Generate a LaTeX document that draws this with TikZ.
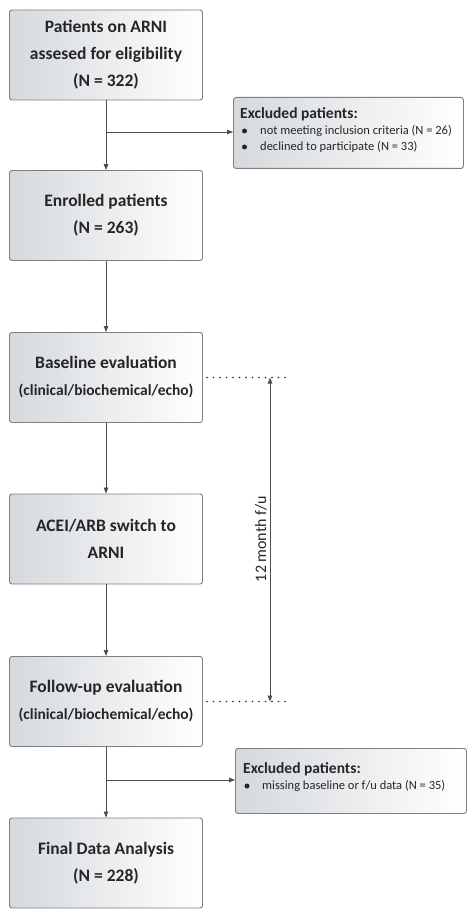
\documentclass[tikz,border=0pt]{standalone}
\usepackage{fontspec}
\setmainfont{Carlito}
\usetikzlibrary{arrows.meta}
\definecolor{edgegray}{HTML}{7F7F7F}
\definecolor{linegray}{HTML}{4D4D4D}
\definecolor{txt}{HTML}{262626}
\definecolor{boxgray}{HTML}{D5D9DD}
\tikzset{
  box/.style={draw=edgegray, line width=0.9pt, rounded corners=2.5pt, left color=boxgray, right color=white,
    minimum width=193pt, minimum height=90pt, inner sep=0pt, align=center, text=txt,
    font=\fontsize{17.5}{27}\selectfont\bfseries},
  exbox/.style={draw=edgegray, line width=0.9pt, rounded corners=2.5pt, left color=boxgray, right color=white,
    anchor=north west, inner sep=0pt},
  exhead/.style={anchor=west, inner sep=0pt, text=txt, font=\fontsize{15.5}{17}\selectfont\bfseries},
  extext/.style={anchor=west, inner sep=0pt, text=txt, font=\fontsize{12.5}{14}\selectfont},
  bul/.style={circle, fill=txt, inner sep=0pt, minimum size=5pt},
  conn/.style={draw=linegray, line width=0.8pt, -{Triangle[length=6pt,width=4.5pt]}},
  dots/.style={draw=txt, line width=1.7pt, line cap=round, dash pattern=on 0pt off 6.5pt}
}
\begin{document}
\begin{tikzpicture}[x=1pt,y=-1pt]
\useasboundingbox[fill=white] (0,0) rectangle (474,917);
% main boxes
\node[box] (b1) at (106,55) {Patients on ARNI\\assesed for eligibility\\(N = 322)};
\node[box] (b2) at (106,215.5) {Enrolled patients\\(N = 263)};
\node[box] (b3) at (106,377.5) {Baseline evaluation\\{\fontsize{15.5}{27}\selectfont(clinical/biochemical/echo)}};
\node[box] (b4) at (106,539) {ACEI/ARB switch to\\ARNI};
\node[box] (b5) at (106,701.5) {Follow-up evaluation\\{\fontsize{15.5}{27}\selectfont(clinical/biochemical/echo)}};
\node[box] (b6) at (106,863) {Final Data Analysis\\(N = 228)};
% excluded box 1
\node[exbox, minimum width=230pt, minimum height=71pt] (e1) at (233,97) {};
\node[exhead] (e1h) at (240,114) {Excluded patients:};
\node[bul] (e1b1) at (244.5,131) {};
\node[extext] (e1t1) at (260,131) {not meeting inclusion criteria (N = 26)};
\node[bul] (e1b2) at (244.5,147) {};
\node[extext] (e1t2) at (260,147) {declined to participate (N = 33)};
% excluded box 2
\node[exbox, minimum width=231pt, minimum height=65pt] (e2) at (235,748) {};
\node[exhead] (e2h) at (243,769) {Excluded patients:};
\node[bul] (e2b1) at (247,786) {};
\node[extext] (e2t1) at (262,786) {missing baseline or f/u data (N = 35)};
% connectors
\draw[conn] (b1.south) -- (b2.north);
\coordinate (j1) at (b1.south |- 0,132);
\draw[conn] (j1) -- (j1 -| e1.west);
\draw[conn] (b2.south) -- (b3.north);
\draw[conn] (b3.south) -- (b4.north);
\draw[conn] (b4.south) -- (b5.north);
\draw[conn] (b5.south) -- (b6.north);
\coordinate (j2) at (b5.south |- 0,780);
\draw[conn] (j2) -- (j2 -| e2.west);
% follow-up span
\coordinate (d1) at (288,377.5);
\coordinate (d2) at (288,701.5);
\draw[dots] ([xshift=4pt]b3.east) -- (d1);
\draw[dots] ([xshift=4pt]b5.east) -- (d2);
\coordinate (s1) at (270,377.5);
\coordinate (s2) at (270,701.5);
\draw[draw=linegray, line width=0.8pt, {Triangle[length=6pt,width=4.5pt]}-{Triangle[length=6pt,width=4.5pt]}] (s1) -- (s2);
\node[rotate=90, text=txt, font=\fontsize{16}{18}\selectfont, inner sep=0pt] (lab) at (261,539) {12 month f/u};
\end{tikzpicture}
\end{document}
